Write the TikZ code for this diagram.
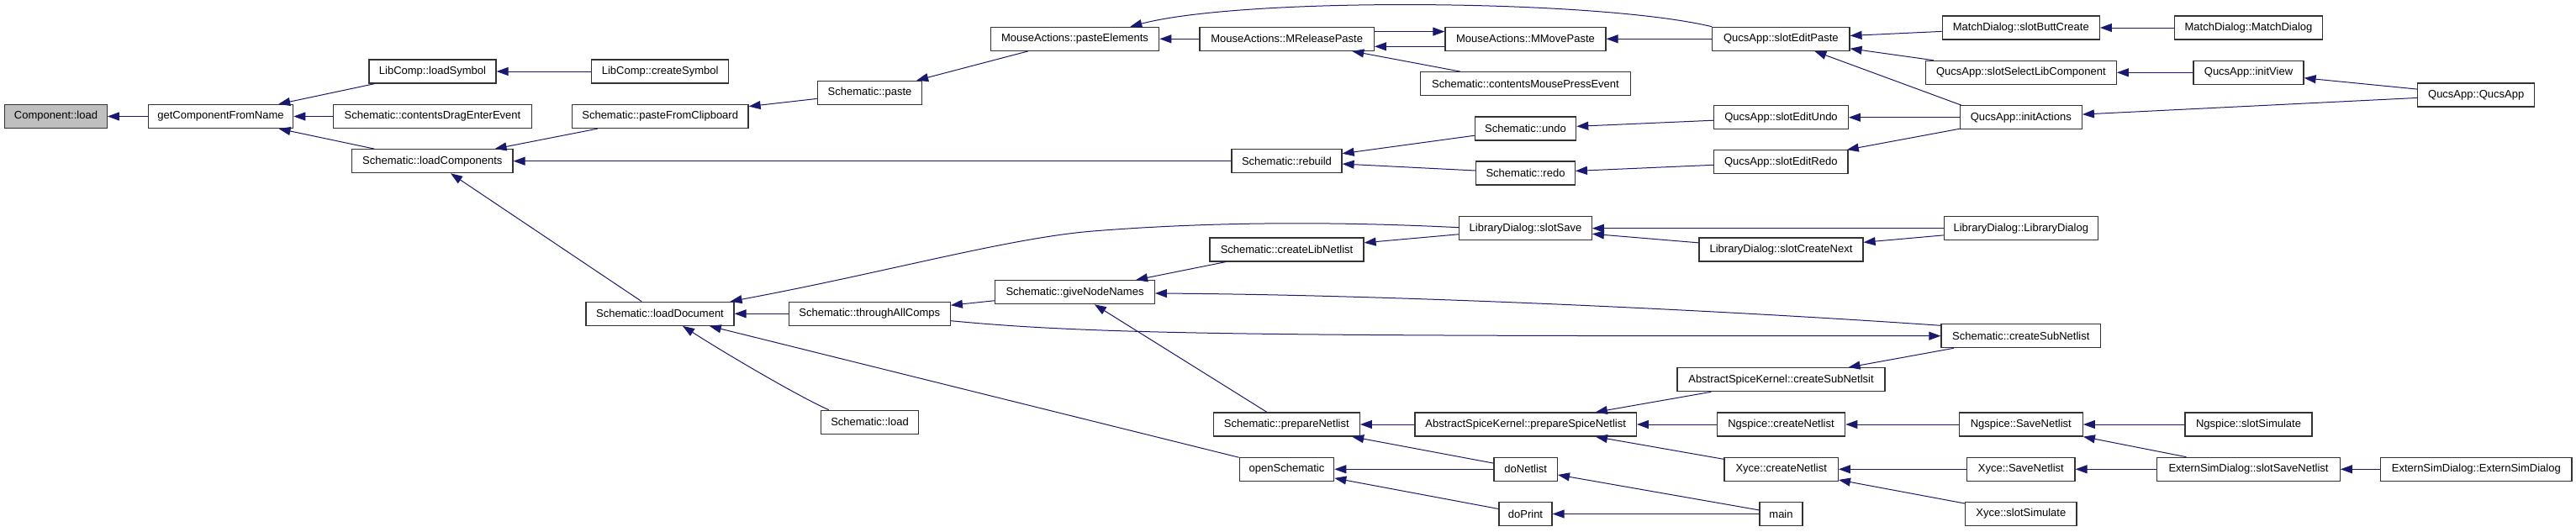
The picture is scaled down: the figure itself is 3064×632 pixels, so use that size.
\documentclass[tikz,border=0pt]{standalone}
\usepackage{fontspec}
\setmainfont{Liberation Sans}
\usetikzlibrary{arrows.meta,calc}
\definecolor{edgecol}{RGB}{25,25,112}
\definecolor{boxgray}{RGB}{191,191,191}
\begin{document}
\begin{tikzpicture}[x=1pt,y=-1pt,
 box/.style={draw=black!80, line width=1.2pt, fill=white, minimum height=28pt, inner sep=0pt, font=\fontsize{13}{15}\selectfont},
 edge/.style={draw=edgecol, line width=1pt, -{Triangle[length=14pt,width=10pt]}}]
\useasboundingbox (0,0) rectangle (3064,632);
\node[box,fill=boxgray,minimum width=121.6pt] (cload) at (66.5,138.5) {Component::load};
\node[box,minimum width=172.4pt] (gcfn) at (262.5,138.5) {getComponentFromName};
\node[box,minimum width=151pt] (lsym) at (514.5,85) {LibComp::loadSymbol};
\node[box,minimum width=235.6pt] (cdee) at (514.5,138.5) {Schematic::contentsDragEnterEvent};
\node[box,minimum width=191.3pt] (lcomp) at (514.3,191.7) {Schematic::loadComponents};
\node[box,minimum width=163pt] (csym) at (785.2,85) {LibComp::createSymbol};
\node[box,minimum width=209.7pt] (pfc) at (785.2,138.5) {Schematic::pasteFromClipboard};
\node[box,minimum width=124.4pt] (paste) at (1034.5,110.3) {Schematic::paste};
\node[box,minimum width=200.4pt] (pel) at (1278.5,46.3) {MouseActions::pasteElements};
\node[box,minimum width=207.3pt] (mrp) at (1530.7,46.3) {MouseActions::MReleasePaste};
\node[box,minimum width=131pt] (rebuild) at (1530.5,191.7) {Schematic::rebuild};
\node[box,minimum width=183pt] (cln) at (1530.5,297) {Schematic::createLibNetlist};
\node[box,minimum width=191pt] (mmp) at (1814.5,46.3) {MouseActions::MMovePaste};
\node[box,minimum width=249.6pt] (cmpe) at (1814.5,99.7) {Schematic::contentsMousePressEvent};
\node[box,minimum width=120.4pt] (undo) at (1814.5,153) {Schematic::undo};
\node[box,minimum width=117.6pt] (redo) at (1814.5,206) {Schematic::redo};
\node[box,minimum width=157.6pt] (ssave) at (1814.5,271.7) {LibraryDialog::slotSave};
\node[box,minimum width=163.3pt] (sep) at (2118.3,46.3) {QucsApp::slotEditPaste};
\node[box,minimum width=159.6pt] (seu) at (2118.5,139.7) {QucsApp::slotEditUndo};
\node[box,minimum width=159.3pt] (ser) at (2118.3,192.8) {QucsApp::slotEditRedo};
\node[box,minimum width=195pt] (scn) at (2118.5,297) {LibraryDialog::slotCreateNext};
\node[box,minimum width=187pt] (sbc) at (2403.8,33) {MatchDialog::slotButtCreate};
\node[box,minimum width=227pt] (sslc) at (2403.8,86.3) {QucsApp::slotSelectLibComponent};
\node[box,minimum width=145pt] (ia) at (2403.8,139.7) {QucsApp::initActions};
\node[box,minimum width=183pt] (ldld) at (2403.8,271.7) {LibraryDialog::LibraryDialog};
\node[box,minimum width=176.4pt] (mdmd) at (2674.5,33) {MatchDialog::MatchDialog};
\node[box,minimum width=131pt] (iv) at (2674.5,86.3) {QucsApp::initView};
\node[box,minimum width=139pt] (qa) at (2945.2,113) {QucsApp::QucsApp};
\node[box,minimum width=176pt] (ldoc) at (785,373.3) {Schematic::loadDocument};
\node[box,minimum width=192pt] (tac) at (1034.3,373.3) {Schematic::throughAllComps};
\node[box,minimum width=116.4pt] (sload) at (1034.5,502.3) {Schematic::load};
\node[box,minimum width=189.6pt] (gnn) at (1278.5,347.7) {Schematic::giveNodeNames};
\node[box,minimum width=174pt] (pnl) at (1530.3,505) {Schematic::prepareNetlist};
\node[box,minimum width=112.4pt] (osch) at (1530.5,558.3) {openSchematic};
\node[box,minimum width=263.3pt] (pspn) at (1814.7,505) {AbstractSpiceKernel::prepareSpiceNetlist};
\node[box,minimum width=75.3pt] (donl) at (1814.7,558.3) {doNetlist};
\node[box,minimum width=63pt] (dopr) at (1814.5,611.5) {doPrint};
\node[box,minimum width=247pt] (csns) at (2118.5,451.7) {AbstractSpiceKernel::createSubNetlsit};
\node[box,minimum width=152.4pt] (ngcn) at (2118.5,505) {Ngspice::createNetlist};
\node[box,minimum width=135.3pt] (xcn) at (2118.7,558.3) {Xyce::createNetlist};
\node[box,minimum width=51pt] (main) at (2118.5,611.5) {main};
\node[box,minimum width=189.7pt] (scsn) at (2403.8,399.7) {Schematic::createSubNetlist};
\node[box,minimum width=147pt] (ngsn) at (2403.8,505) {Ngspice::SaveNetlist};
\node[box,minimum width=128.3pt] (xsn) at (2403.8,558.3) {Xyce::SaveNetlist};
\node[box,minimum width=132.3pt] (xss) at (2403.8,611.5) {Xyce::slotSimulate};
\node[box,minimum width=151pt] (ngss) at (2674.5,505) {Ngspice::slotSimulate};
\node[box,minimum width=217.6pt] (essn) at (2674.5,558.3) {ExternSimDialog::slotSaveNetlist};
\node[box,minimum width=227.3pt] (esd) at (2945.3,558.3) {ExternSimDialog::ExternSimDialog};
% edges
\draw[edge] (gcfn) -- (cload);
\draw[edge] (lsym) -- (gcfn);
\draw[edge] (cdee) -- (gcfn);
\draw[edge] (lcomp) -- (gcfn);
\draw[edge] (csym) -- (lsym);
\draw[edge] (pfc) -- (lcomp);
\draw[edge] (rebuild) -- (lcomp);
\draw[edge] (ldoc) -- (lcomp);
\draw[edge] (paste) -- (pfc);
\draw[edge] (pel) -- (paste);
\draw[edge] (mrp) -- (pel);
\draw[edge] (sep.north west) .. controls (1900,-1) and (1480,-4) .. ($(pel.north east)+(-35,0)$);
\draw[edge] ($(mrp.east)+(0,-8.7)$) -- ($(mmp.west)+(0,-8.7)$);
\draw[edge] ($(mmp.west)+(0,9)$) -- ($(mrp.east)+(0,9)$);
\draw[edge] (cmpe) -- (mrp);
\draw[edge] (sep) -- (mmp);
\draw[edge] (undo) -- (rebuild);
\draw[edge] (redo) -- (rebuild);
\draw[edge] (seu) -- (undo);
\draw[edge] (ser) -- (redo);
\draw[edge] (sbc) -- (sep);
\draw[edge] (sslc) -- (sep);
\draw[edge] ($(ia.north west)+(2,0)$) -- ($(sep.south)+(40,0)$);
\draw[edge] (ia) -- (seu);
\draw[edge] (ia) -- (ser);
\draw[edge] (mdmd) -- (sbc);
\draw[edge] (iv) -- (sslc);
\draw[edge] (qa) -- (ia);
\draw[edge] (qa) -- (iv);
\draw[edge] ($(ssave.west)+(0,-1)$) .. controls (1600,264) and (1450,263) .. (1300,275) .. controls (1200,283) and (1050,325) .. ($(ldoc.north east)+(-5,0)$);
\draw[edge] (tac) -- (ldoc);
\draw[edge] (osch) -- (ldoc);
\draw[edge] ($(sload.north west)+(10,0)$) .. controls (946.7,470) and (862,420) .. ($(ldoc.south)+(27,0)$);
\draw[edge] (gnn) -- (tac);
\draw[edge] ($(tac.east)+(0,8.4)$) .. controls (1300,398) and (1500,400) .. (scsn.west);
\draw[edge] ($(scsn.west)+(0,-12.4)$) .. controls (2059,370) and (1673,351) .. ($(gnn.east)+(0,1.3)$);
\draw[edge] (cln) -- (gnn);
\draw[edge] (pnl) -- (gnn);
\draw[edge] (ssave) -- (cln);
\draw[edge] (ldld) -- (ssave);
\draw[edge] (scn) -- (ssave);
\draw[edge] (ldld) -- (scn);
\draw[edge] (pspn) -- (pnl);
\draw[edge] (donl) -- (pnl);
\draw[edge] (csns) -- (pspn);
\draw[edge] (ngcn) -- (pspn);
\draw[edge] (xcn) -- (pspn);
\draw[edge] (scsn) -- (csns);
\draw[edge] (donl) -- (osch);
\draw[edge] (dopr) -- (osch);
\draw[edge] (main) -- (donl);
\draw[edge] (main) -- (dopr);
\draw[edge] (ngsn) -- (ngcn);
\draw[edge] (ngss) -- (ngsn);
\draw[edge] (essn) -- (ngsn);
\draw[edge] (xsn) -- (xcn);
\draw[edge] (xss) -- (xcn);
\draw[edge] (essn) -- (xsn);
\draw[edge] (esd) -- (essn);
\end{tikzpicture}
\end{document}
